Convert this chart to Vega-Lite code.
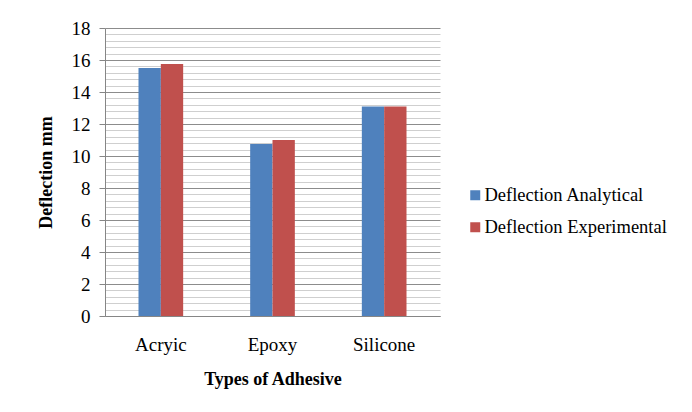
{
  "$schema": "https://vega.github.io/schema/vega-lite/v6.json",
  "width": 335,
  "height": 288,
  "autosize": {"type": "none"},
  "padding": {"left": 105, "top": 28, "right": 252, "bottom": 96},
  "background": "white",
  "data": {
    "values": [
      {"adhesive": "Acryic", "series": "Deflection Analytical", "deflection": 15.5},
      {"adhesive": "Acryic", "series": "Deflection Experimental", "deflection": 15.75},
      {"adhesive": "Epoxy", "series": "Deflection Analytical", "deflection": 10.75},
      {"adhesive": "Epoxy", "series": "Deflection Experimental", "deflection": 11.0},
      {"adhesive": "Silicone", "series": "Deflection Analytical", "deflection": 13.1},
      {"adhesive": "Silicone", "series": "Deflection Experimental", "deflection": 13.1}
    ]
  },
  "mark": {"type": "bar"},
  "encoding": {
    "x": {
      "field": "adhesive",
      "type": "nominal",
      "sort": ["Acryic", "Epoxy", "Silicone"],
      "scale": {"paddingInner": 0.6, "paddingOuter": 0.3},
      "axis": {
        "title": "Types of Adhesive",
        "labelAngle": 0,
        "ticks": false,
        "labelPadding": 19,
        "titlePadding": 16,
        "domainColor": "#868686",
        "grid": false
      }
    },
    "xOffset": {"field": "series", "type": "nominal", "scale": {"paddingInner": 0, "paddingOuter": 0}},
    "y": {
      "field": "deflection",
      "type": "quantitative",
      "scale": {"domain": [0, 18], "nice": false},
      "axis": {
        "title": "Deflection mm",
        "values": [0,0.4,0.8,1.2,1.6,2,2.4,2.8,3.2,3.6,4,4.4,4.8,5.2,5.6,6,6.4,6.8,7.2,7.6,8,8.4,8.8,9.2,9.6,10,10.4,10.8,11.2,11.6,12,12.4,12.8,13.2,13.6,14,14.4,14.8,15.2,15.6,16,16.4,16.8,17.2,17.6,18],
        "labelExpr": "datum.value % 2 === 0 ? format(datum.value, 'd') : ''",
        "labelOverlap": false,
        "grid": true,
        "gridColor": {"condition": {"test": "datum.value % 2 === 0", "value": "#8c8c8c"}, "value": "#cfcfcf"},
        "gridWidth": 1,
        "tickColor": {"condition": {"test": "datum.value % 2 === 0", "value": "#868686"}, "value": "transparent"},
        "tickSize": 6,
        "labelPadding": 9,
        "titlePadding": 16,
        "domainColor": "#868686"
      }
    },
    "color": {
      "field": "series",
      "type": "nominal",
      "scale": {"domain": ["Deflection Analytical", "Deflection Experimental"], "range": ["#4F81BD", "#C0504D"]},
      "legend": {
        "title": null,
        "orient": "none",
        "legendX": 361,
        "legendY": 158,
        "symbolType": "square",
        "symbolSize": 100,
        "symbolStrokeWidth": 0,
        "labelFontSize": 18.5,
        "labelOffset": 0,
        "rowPadding": 13
      }
    }
  },
  "config": {
    "font": "Liberation Serif",
    "view": {"stroke": null},
    "axis": {
      "labelFont": "Liberation Serif",
      "labelFontSize": 19,
      "labelColor": "#000000",
      "titleFont": "Liberation Serif",
      "titleFontSize": 18,
      "titleFontWeight": "bold",
      "titleColor": "#000000"
    },
    "legend": {"labelFont": "Liberation Serif", "labelColor": "#000000", "labelLimit": 300}
  }
}
